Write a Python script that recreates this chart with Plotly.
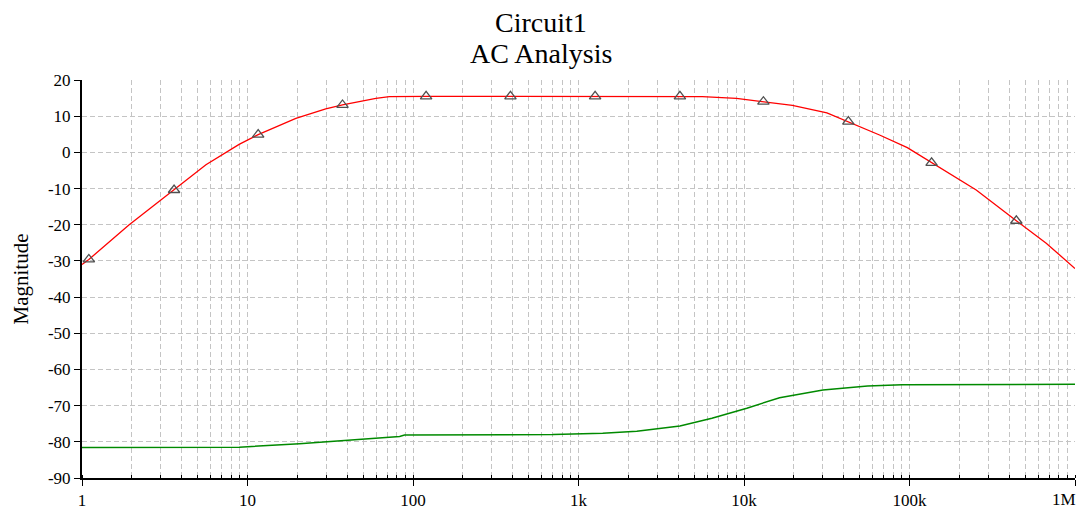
import plotly.graph_objects as go

# Red trace (magnitude, dB)
red_freq = [1, 1.1, 1.92, 3.6, 5.61, 8.9, 11.6, 19.6, 29.7, 37.5, 59.7, 72, 120, 388,
            1260, 4100, 5600, 9000, 13100, 19600, 31700, 42700, 65900, 97000,
            136000, 253000, 442000, 670000, 1000000]
red_mag = [-31.0, -29.6, -20.1, -10.4, -3.4, 2.2, 4.9, 9.4, 12.0, 13.1, 14.9, 15.4, 15.5, 15.5,
           15.5, 15.5, 15.4, 14.9, 14.0, 13.0, 10.9, 8.5, 4.8, 1.3,
           -2.9, -10.4, -18.9, -25.1, -32.1]

# Triangle markers on the red trace
marker_freq = [1.1, 3.6, 11.6, 37.5, 120, 388, 1260, 4100, 13100, 42700, 136000, 442000]
marker_mag = [-29.6, -10.4, 4.9, 13.1, 15.5, 15.5, 15.5, 15.5, 14.0, 8.5, -2.9, -18.9]

# Green trace
green_freq = [1, 8.9, 20.6, 41, 83, 88.9, 700, 1400, 2250, 4100, 6400, 10400,
              16400, 30000, 55800, 90000, 1000000]
green_mag = [-81.6, -81.5, -80.5, -79.5, -78.5, -78.1, -78.0, -77.6, -77.1, -75.6, -73.5, -70.7,
             -67.8, -65.7, -64.6, -64.2, -64.1]

x_tickvals = [1, 10, 100, 1000, 10000, 100000, 1000000]
x_ticktext = ["1", "10", "100", "1k", "10k", "100k", ""]
last_x_label = "1M"
y_tickvals = [20, 10, 0, -10, -20, -30, -40, -50, -60, -70, -80, -90]
y_ticktext = ["20", "10", "0", "-10", "-20", "-30", "-40", "-50", "-60", "-70", "-80", "-90"]

FONT = "Liberation Serif, Times New Roman, serif"
GRID = "#c4c4c4"

fig = go.Figure()
fig.add_trace(go.Scatter(x=green_freq, y=green_mag, mode="lines",
                         line=dict(color="#008a00", width=1.5), showlegend=False))
fig.add_trace(go.Scatter(x=red_freq, y=red_mag, mode="lines",
                         line=dict(color="#ff0000", width=1.3), showlegend=False))
fig.add_trace(go.Scatter(x=marker_freq, y=marker_mag, mode="markers",
                         marker=dict(symbol="triangle-up-open", size=10,
                                     color="#505050", line=dict(width=1.3, color="#505050")),
                         showlegend=False))

fig.update_layout(
    width=1081, height=511,
    margin=dict(l=82, r=6, t=80, b=33),
    paper_bgcolor="white", plot_bgcolor="white",
    font=dict(family=FONT, color="#000000", size=17),
    showlegend=False,
)
fig.add_annotation(text="Circuit1", xref="paper", yref="paper", x=0.4622, y=1.1457,
                   xanchor="center", yanchor="middle", showarrow=False,
                   font=dict(family=FONT, size=28, color="#000000"))
fig.add_annotation(text="AC Analysis", xref="paper", yref="paper", x=0.4622, y=1.0678,
                   xanchor="center", yanchor="middle", showarrow=False,
                   font=dict(family=FONT, size=28, color="#000000"))
# last x tick label, kept inside the page like in the reference
fig.add_annotation(text=last_x_label, xref="x", yref="paper", x=6, y=0,
                   xanchor="right", yanchor="top", yshift=-10, xshift=3, showarrow=False,
                   font=dict(family=FONT, size=17, color="#000000"))

fig.update_xaxes(
    type="log", range=[0, 6], automargin=False,
    tickvals=x_tickvals, ticktext=x_ticktext,
    ticks="outside", ticklen=6, tickwidth=1, tickcolor="#000000",
    showline=True, linecolor="#000000", linewidth=2,
    showgrid=True, gridcolor=GRID, gridwidth=1, griddash="5px,3px",
    minor=dict(dtick="D1", showgrid=True, gridcolor=GRID, gridwidth=1, griddash="5px,3px",
               ticks="inside", ticklen=3, tickcolor="#000000"),
    tickfont=dict(family=FONT, size=17, color="#000000"),
    zeroline=False, fixedrange=True,
)
fig.update_yaxes(
    range=[-90, 20], tickvals=y_tickvals, ticktext=y_ticktext, automargin=False,
    ticks="outside", ticklen=6, tickwidth=1, tickcolor="#000000",
    showline=True, linecolor="#000000", linewidth=2,
    showgrid=True, gridcolor=GRID, gridwidth=1, griddash="5px,3px",
    tickfont=dict(family=FONT, size=17, color="#000000"),
    title=dict(text="Magnitude", font=dict(family=FONT, size=21, color="#000000"), standoff=14),
    zeroline=False, fixedrange=True,
)

fig.write_html("out.html")
